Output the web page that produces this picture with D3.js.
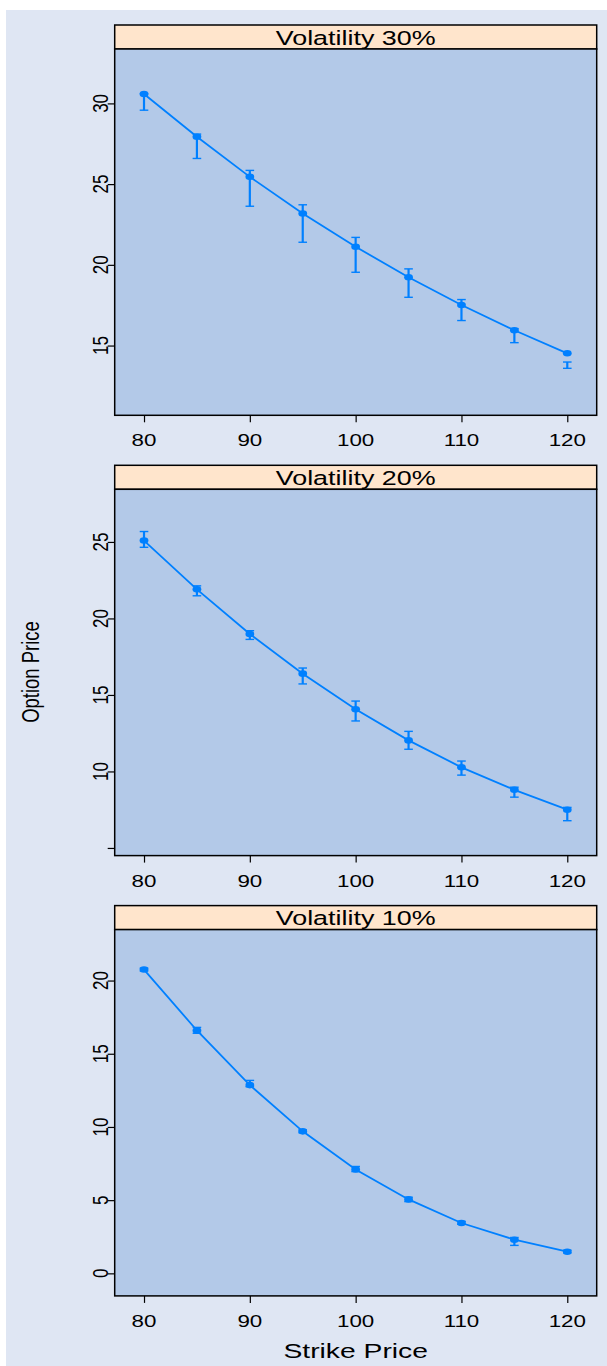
<!DOCTYPE html>
<html><head><meta charset="utf-8">
<script src="https://cdn.jsdelivr.net/npm/d3@7"></script>
<style>body{margin:0;background:#fff}svg{display:block}text{font-family:"Liberation Sans",Arial,sans-serif;fill:#000}</style>
</head><body>
<script>
// ---- data ----
const strikes = [80, 85, 90, 95, 100, 105, 110, 115, 120];
const panelTitles = ["Volatility 30%", "Volatility 20%", "Volatility 10%"];
const vol30Price = [30.58, 27.93, 25.45, 23.18, 21.12, 19.23, 17.51, 15.95, 14.52];
const vol30Lower = [29.58, 26.59, 23.63, 21.40, 19.54, 17.99, 16.55, 15.18, 13.59];
const vol30Upper = [30.60, 28.10, 25.85, 23.72, 21.70, 19.75, 17.85, 16.05, 13.98];
const vol20Price = [25.09, 21.90, 18.98, 16.39, 14.06, 12.03, 10.27, 8.80, 7.50];
const vol20Lower = [24.65, 21.48, 18.63, 15.72, 13.30, 11.45, 9.76, 8.32, 6.78];
const vol20Upper = [25.68, 22.13, 19.20, 16.76, 14.60, 12.62, 10.68, 8.97, 7.65];
const vol10Price = [20.75, 16.59, 12.86, 9.70, 7.10, 5.05, 3.44, 2.30, 1.48];
const vol10Lower = [20.65, 16.40, 12.75, 9.60, 6.95, 4.90, 3.35, 1.91, 1.40];
const vol10Upper = [20.85, 16.80, 13.18, 9.80, 7.30, 5.20, 3.55, 2.45, 1.58];
const xTicks = [80, 90, 100, 110, 120];
const yTicks30 = [15, 20, 25, 30];
const yTicks20 = [5, 10, 15, 20, 25];
const yTicks20Labeled = [10, 15, 20, 25];
const yTicks10 = [0, 5, 10, 15, 20];
const xDomain = [77.23, 122.78];
const yDomain30 = [10.68, 33.37];
const yDomain20 = [4.50, 28.44];
const yDomain10 = [-1.54, 23.48];
const xLabel = "Strike Price";
const yLabel = "Option Price";

const W = 607, H = 1366;
const COL = "#0080ff";
const svg = d3.select("body").append("svg").attr("width", W).attr("height", H);
svg.append("rect").attr("x", 6).attr("y", 10).attr("width", W - 6).attr("height", H - 10).attr("fill", "#dfe6f3");

const left = 114.7, right = 596.7;
const x = d3.scaleLinear().domain(xDomain).range([left, right]);

const panels = [
  {title: panelTitles[0], p: vol30Price, lo: vol30Lower, hi: vol30Upper, dom: yDomain30, ticks: yTicks30, labeled: yTicks30},
  {title: panelTitles[1], p: vol20Price, lo: vol20Lower, hi: vol20Upper, dom: yDomain20, ticks: yTicks20, labeled: yTicks20Labeled},
  {title: panelTitles[2], p: vol10Price, lo: vol10Lower, hi: vol10Upper, dom: yDomain10, ticks: yTicks10, labeled: yTicks10}
];

function hText(g, tx, ty, str, size, sx) {
  return g.append("text").attr("transform", `translate(${tx},${ty}) scale(${sx},1)`)
    .attr("text-anchor", "middle").style("font-size", size + "px").text(str);
}
function vText(g, tx, ty, str, size, sx) {
  return g.append("text").attr("transform", `translate(${tx},${ty}) scale(${sx},1) rotate(-90)`)
    .attr("text-anchor", "middle").style("font-size", size + "px").text(str);
}

panels.forEach((P, i) => {
  const stripTop = 25 + i * 440.3;
  const top = stripTop + 24, bottom = top + 366.3;
  const y = d3.scaleLinear().domain(P.dom).range([bottom, top]);
  const g = svg.append("g");
  // strip
  g.append("rect").attr("x", left).attr("y", stripTop).attr("width", right - left).attr("height", 24)
    .attr("fill", "#ffe5cc").attr("stroke", "#000").attr("stroke-width", 1.5);
  hText(g, (left + right) / 2, stripTop + 19.5, P.title, 19.5, 1.38);
  // panel
  g.append("rect").attr("x", left).attr("y", top).attr("width", right - left).attr("height", bottom - top)
    .attr("fill", "#b3c9e8");
  // axes via d3
  const yAx = d3.axisLeft(y).tickValues(P.ticks).tickSize(7).tickFormat("");
  const ya = g.append("g").attr("transform", `translate(${left},0)`).call(yAx);
  ya.select(".domain").remove();
  ya.selectAll("line").attr("stroke", "#000").attr("stroke-width", 1.2);
  P.labeled.forEach(v => vText(g, 100.5, y(v), String(v), 17, 1.3).attr("dy", "0.35em"));
  const xAx = d3.axisBottom(x).tickValues(xTicks).tickSize(7).tickFormat("");
  const xa = g.append("g").attr("transform", `translate(0,${bottom})`).call(xAx);
  xa.select(".domain").remove();
  xa.selectAll("line").attr("stroke", "#000").attr("stroke-width", 1.2);
  xTicks.forEach(v => hText(g, x(v), bottom + 31, String(v), 17.2, 1.3));
  // border
  g.append("rect").attr("x", left).attr("y", top).attr("width", right - left).attr("height", bottom - top)
    .attr("fill", "none").attr("stroke", "#000").attr("stroke-width", 1.5);
  // error bars
  const eb = g.append("g").attr("stroke", COL);
  strikes.forEach((s, k) => {
    const cx = x(s);
    eb.append("line").attr("x1", cx).attr("x2", cx).attr("y1", y(P.lo[k])).attr("y2", y(P.hi[k])).attr("stroke-width", 2.2);
    eb.append("line").attr("x1", cx - 4.3).attr("x2", cx + 4.3).attr("y1", y(P.lo[k])).attr("y2", y(P.lo[k])).attr("stroke-width", 1.4);
    eb.append("line").attr("x1", cx - 4.3).attr("x2", cx + 4.3).attr("y1", y(P.hi[k])).attr("y2", y(P.hi[k])).attr("stroke-width", 1.4);
  });
  // line
  g.append("path").datum(strikes.map((s, k) => [s, P.p[k]]))
    .attr("d", d3.line().x(d => x(d[0])).y(d => y(d[1])))
    .attr("fill", "none").attr("stroke", COL).attr("stroke-width", 1.8);
  // points
  g.selectAll(".pt").data(strikes.map((s, k) => [s, P.p[k]])).enter().append("ellipse")
    .attr("cx", d => x(d[0])).attr("cy", d => y(d[1])).attr("rx", 4.4).attr("ry", 3.3).attr("fill", COL);
});

hText(svg, (left + right) / 2, 1358, xLabel, 20.5, 1.38);
vText(svg, 39, 672, yLabel, 18.5, 1.3);
</script>
</body></html>
